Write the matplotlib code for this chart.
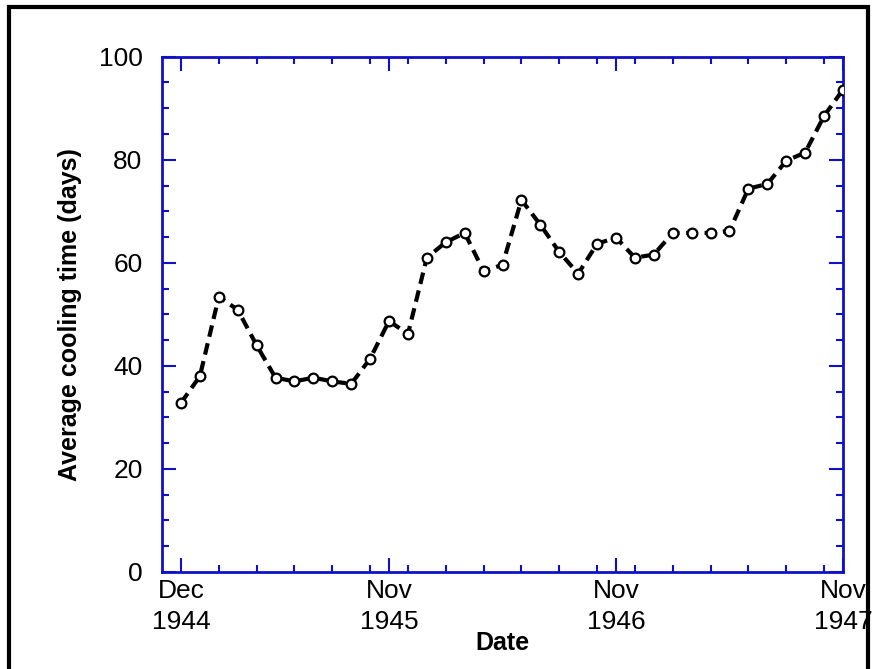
import matplotlib.pyplot as plt
from matplotlib.patches import Rectangle
from matplotlib.ticker import MultipleLocator

plt.rcParams['font.family'] = ['Liberation Sans', 'DejaVu Sans']

# monthly values, Dec 1944 .. Nov 1947
months = list(range(36))
cooling_days = [32.8, 38.0, 53.4, 50.9, 44.0, 37.7, 37.0, 37.7, 37.0, 36.5,
                41.4, 48.7, 46.2, 61.0, 64.0, 65.8, 58.4, 59.6, 72.2, 67.4,
                62.1, 57.9, 63.7, 64.9, 61.0, 61.6, 65.8, 65.8, 65.8, 66.2,
                74.4, 75.3, 79.8, 81.4, 88.5, 93.6]
tick_pos = [0, 11, 23, 35]
tick_labels = ["Dec\n1944", "Nov\n1945", "Nov\n1946", "Nov\n1947"]

blue = "#1010c8"
fig = plt.figure(figsize=(8.74, 6.69), dpi=100)
ax = fig.add_axes([0.1854, 0.145, 0.7791, 0.7702])

ax.plot(months, cooling_days, color="black", lw=3, ls=(0, (2.8, 1.6)), zorder=2)
ax.plot(months, cooling_days, ls="none", marker="o", ms=7, mfc="white",
        mec="black", mew=1.6, zorder=3)

ax.set_xlim(-1, 35)
ax.set_ylim(0, 100)
ax.set_xticks(tick_pos)
ax.set_xticklabels(tick_labels, fontsize=19, linespacing=1.35)
ax.xaxis.set_minor_locator(MultipleLocator(2))
ax.yaxis.set_major_locator(MultipleLocator(20))
ax.yaxis.set_minor_locator(MultipleLocator(5))
ax.tick_params(axis="y", labelsize=19, pad=14)
ax.tick_params(axis="x", pad=5)
ax.tick_params(which="both", direction="in", top=True, right=True, color=blue, width=1.5)
ax.tick_params(which="major", length=10)
ax.tick_params(which="minor", length=5)
for s in ax.spines.values():
    s.set_color(blue)
    s.set_linewidth(2)

ax.set_ylabel("Average cooling time (days)", fontsize=18, fontweight="bold", labelpad=12)
ax.set_xlabel("Date", fontsize=18, fontweight="bold")
ax.xaxis.set_label_coords(0.5, -0.115)

fig.patches.append(Rectangle((0.01, -0.05), 0.983, 1.04, transform=fig.transFigure,
                             fill=False, ec="black", lw=3))
fig.savefig("out.png")
